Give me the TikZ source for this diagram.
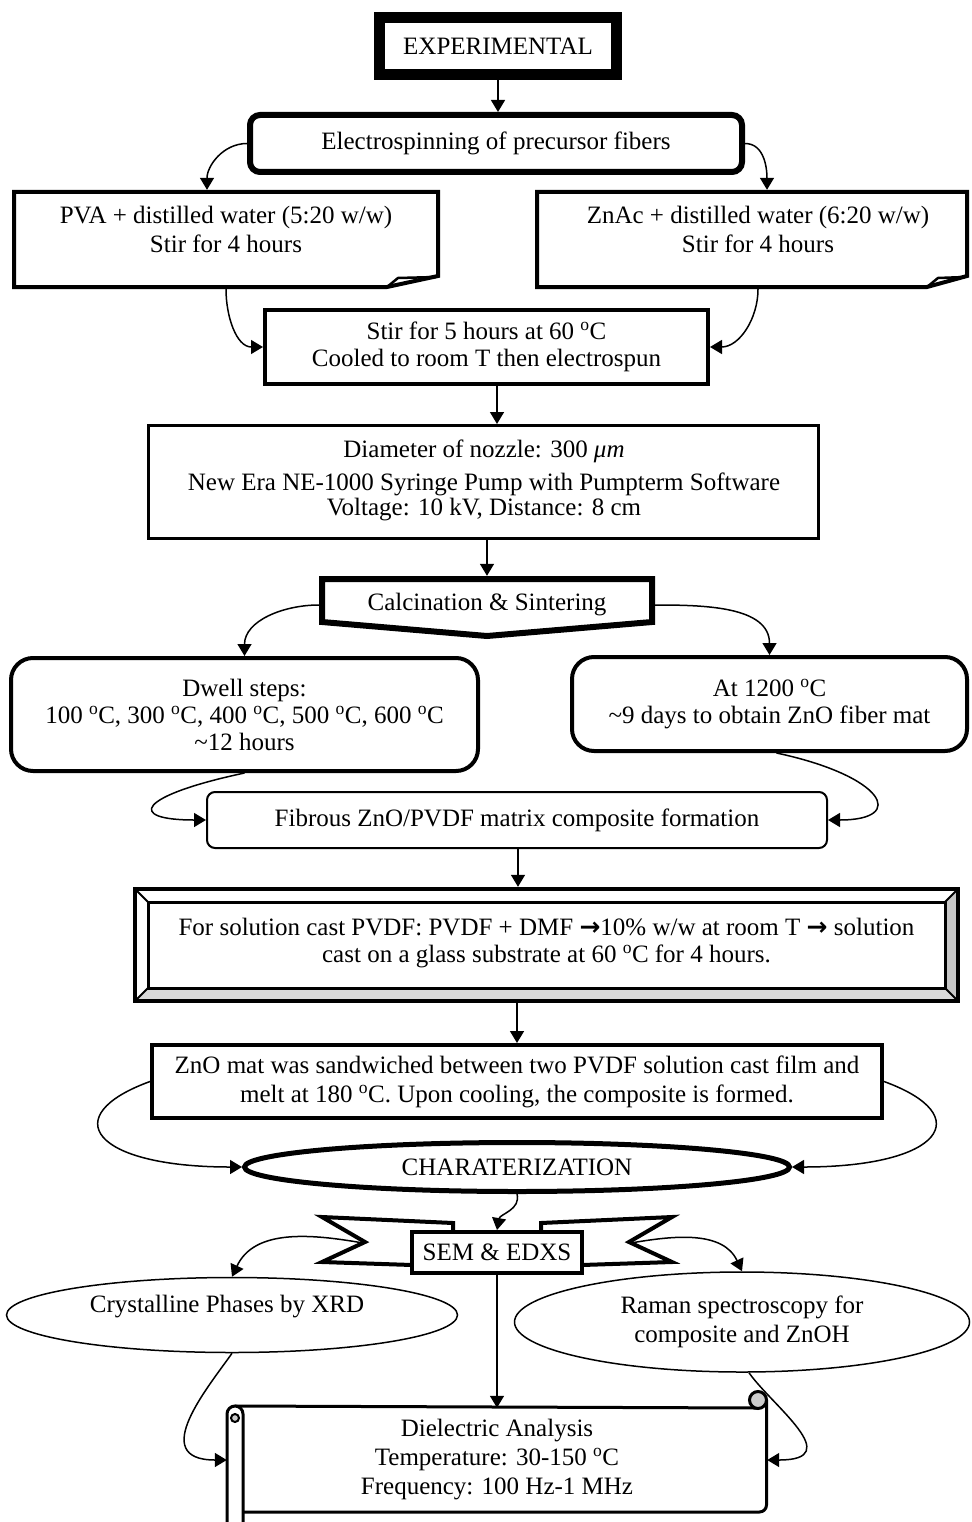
\documentclass[tikz,border=0pt]{standalone}
\usepackage{fontspec}
\setmainfont{Liberation Serif}
\newfontfamily\arrfont{DejaVu Sans}
\usetikzlibrary{arrows.meta,shapes.geometric}
\newcommand{\dg}{\textsuperscript{o}C}
\newcommand{\rarr}{{\arrfont\bfseries →}}
\begin{document}
\begin{tikzpicture}[x=1pt,y=1pt,
  every node/.style={font=\fontsize{25}{29}\selectfont, align=center, inner sep=0pt},
  arr/.style={-{Triangle[length=12pt,width=14pt]}, line width=1.5pt},
  thickbox/.style={draw, line width=4pt},
  oval/.style={ellipse, draw, line width=1.5pt}]
\useasboundingbox (0,0) rectangle (971,-1522);

% EXPERIMENTAL
\node[draw, line width=11pt, minimum width=237pt, minimum height=57pt] (exp) at (498,-46) {EXPERIMENTAL};
% Electrospinning
\node[draw, line width=6pt, rounded corners=10pt, minimum width=492pt, minimum height=57pt] (elec) at (496,-143.5) {Electrospinning of precursor fibers};

% PVA note box
\node[minimum width=428pt, minimum height=99pt] (pva) at (226,-239.5) {};
\draw[line width=4pt] (14,-192) -- (438,-192) -- (438,-276) -- (387,-287) -- (14,-287) -- cycle;
\draw[line width=2.5pt] (387,-287) -- (398,-278) -- (436,-277);
\node (pvat) at (226,-229.5) {PVA + distilled water (5:20 w/w)\\Stir for 4 hours};

% ZnAc note box
\node[minimum width=434pt, minimum height=99pt] (znac) at (752,-239.5) {};
\draw[line width=4pt] (537,-192) -- (967,-192) -- (967,-276) -- (927,-287) -- (537,-287) -- cycle;
\draw[line width=2.5pt] (927,-287) -- (938,-278) -- (965,-277);
\node (znact) at (758,-229.5) {ZnAc + distilled water (6:20 w/w)\\Stir for 4 hours};

% Stir
\node[thickbox, minimum width=443pt, minimum height=74pt, font=\fontsize{25}{27}\selectfont] (stir) at (486.5,-347) {Stir for 5 hours at 60 \dg\\Cooled to room T then electrospun};

% Diameter
\node[draw, line width=3pt, minimum width=670pt, minimum height=113pt] (dia) at (483.5,-482) {};
\node[font=\fontsize{25}{25}\selectfont] (diat) at (484,-480) {Diameter of nozzle: 300 {\itshape μm}\\[8pt]New Era NE-1000 Syringe Pump with Pumpterm Software\\Voltage: 10 kV, Distance: 8 cm};

% Calcination
\draw[line width=6pt] (322,-579) -- (652,-579) -- (652,-622) -- (487,-636) -- (322,-622) -- cycle;
\node[minimum width=336pt, minimum height=58pt] (calc) at (487,-605) {Calcination \& Sintering};

% Dwell and 1200
\node[thickbox, rounded corners=22pt, minimum width=467pt, minimum height=113pt, font=\fontsize{25}{27}\selectfont] (dwell) at (244.5,-714.5) {Dwell steps:\\100 \dg, 300 \dg, 400 \dg, 500 \dg, 600 \dg\\\textasciitilde12 hours};
\node[thickbox, rounded corners=22pt, minimum width=395pt, minimum height=94pt, font=\fontsize{25}{27}\selectfont] (hot) at (769.5,-704) {At 1200 \dg\\\textasciitilde9 days to obtain ZnO fiber mat};

% Fibrous
\node[draw, line width=2pt, rounded corners=8pt, minimum width=620pt, minimum height=56pt] (fib) at (517,-820) {Fibrous ZnO/PVDF matrix composite formation};

% Bevel
\node[minimum width=827pt, minimum height=116pt] (bev) at (546.5,-945) {};
\fill[gray!30] (135,-1001) -- (958,-1001) -- (945,-988) -- (148,-988) -- cycle;
\fill[gray!45] (958,-889) -- (958,-1001) -- (945,-988) -- (945,-902) -- cycle;
\draw[line width=4pt] (135,-889) rectangle (958,-1001);
\draw[line width=3pt] (148,-902) rectangle (945,-988);
\draw[line width=2pt] (135,-889) -- (148,-902) (958,-889) -- (945,-902) (135,-1001) -- (148,-988) (958,-1001) -- (945,-988);
\node[font=\fontsize{25}{27}\selectfont] (bevt) at (546.5,-943.5) {For solution cast PVDF: PVDF + DMF \rarr10\% w/w at room T \rarr{} solution\\cast on a glass substrate at 60 \dg{} for 4 hours.};

% ZnO mat
\node[thickbox, minimum width=730pt, minimum height=73pt] (znm) at (517,-1081.5) {ZnO mat was sandwiched between two PVDF solution cast film and\\melt at 180 \dg. Upon cooling, the composite is formed.};

% Characterization
\node[ellipse, draw, line width=5pt, minimum width=545pt, minimum height=49pt] (char) at (517,-1167) {CHARATERIZATION};

% SEM ribbon
\draw[line width=4pt] (453,-1232) -- (453,-1223) -- (322,-1217) -- (365,-1242) -- (322,-1262) -- (412,-1265);
\draw[line width=4pt] (541,-1232) -- (541,-1223) -- (672,-1217) -- (629,-1242) -- (672,-1262) -- (582,-1265);
\node[draw, line width=4pt, fill=white, minimum width=170pt, minimum height=41pt] (sem) at (497,-1252.5) {SEM \& EDXS};
\coordinate (semL) at (363,-1243);
\coordinate (semR) at (631,-1243);

% Ellipses
\node[oval, minimum width=451pt, minimum height=75pt] (cry) at (232,-1315) {};
\node (cryt) at (227,-1307) {Crystalline Phases by XRD};
\node[oval, minimum width=455pt, minimum height=100pt] (ram) at (742,-1322) {Raman spectroscopy for\\composite and ZnOH};

% Dielectric scroll
\draw[line width=3pt, line join=round] (235,-1406) -- (758,-1408);
\draw[line width=3pt, fill=gray!40] (758,-1400) circle (8.5);
\draw[line width=3pt, line join=round] (766.5,-1400) -- (766.5,-1505) arc (0:-90:7) -- (243,-1512);
\draw[line width=3pt, fill=white] (243,-1530) -- (243,-1414) arc (0:180:8) -- (227,-1530);
\draw[line width=2pt, fill=gray!40] (235,-1418) circle (4);
\node[minimum width=540pt, minimum height=104pt] (diel) at (497,-1460) {Dielectric Analysis\\Temperature: 30-150 \dg\\Frequency: 100 Hz-1 MHz};

% Connectors
\draw[arr] (exp.south) -- (exp.south |- elec.north);
\draw[arr] (elec.west) to[out=180,in=90] ([xshift=-19]pva.north);
\draw[arr] (elec.east) to[out=0,in=90] ([xshift=15]znac.north);
\draw[arr] (pva.south) to[out=270,in=180] (stir.west);
\draw[arr] ([xshift=6]znac.south) to[out=270,in=0] (stir.east);
\draw[arr] ([xshift=10.5]stir.south) -- ([xshift=10.5]stir.south |- dia.north);
\draw[arr] (dia.south -| calc.north) -- (calc.north);
\draw[arr] (calc.west) to[out=180,in=90] (dwell.north);
\draw[arr] (calc.east) to[out=0,in=90] (hot.north);
\draw[arr] (dwell.south) to[out=192,in=180,out distance=110pt,in distance=80pt] (fib.west);
\draw[arr] ([xshift=7]hot.south) to[out=-12,in=0,out distance=110pt,in distance=80pt] (fib.east);
\draw[arr] ([xshift=1]fib.south) -- ([xshift=1]fib.south |- bev.north);
\draw[arr] (znm.north |- bev.south) -- (znm.north);
\draw[arr] (znm.west) to[out=200,in=180,out distance=100pt,in distance=150pt] (char.west);
\draw[arr] (znm.east) to[out=-20,in=0,out distance=100pt,in distance=150pt] (char.east);
\draw[arr] (char.south) to[out=-75,in=80] (sem.north);
\draw[arr] (semL) to[out=170,in=65] (cry.north);
\draw[arr] (semR) to[out=10,in=115] (ram.north);
\draw[arr] (sem.south) -- (diel.north);
\draw[arr] (cry.south) to[out=235,in=180,out distance=40pt,in distance=80pt] (diel.west);
\draw[arr] ([xshift=7]ram.south) to[out=-55,in=0,out distance=40pt,in distance=80pt] (diel.east);
\end{tikzpicture}
\end{document}
